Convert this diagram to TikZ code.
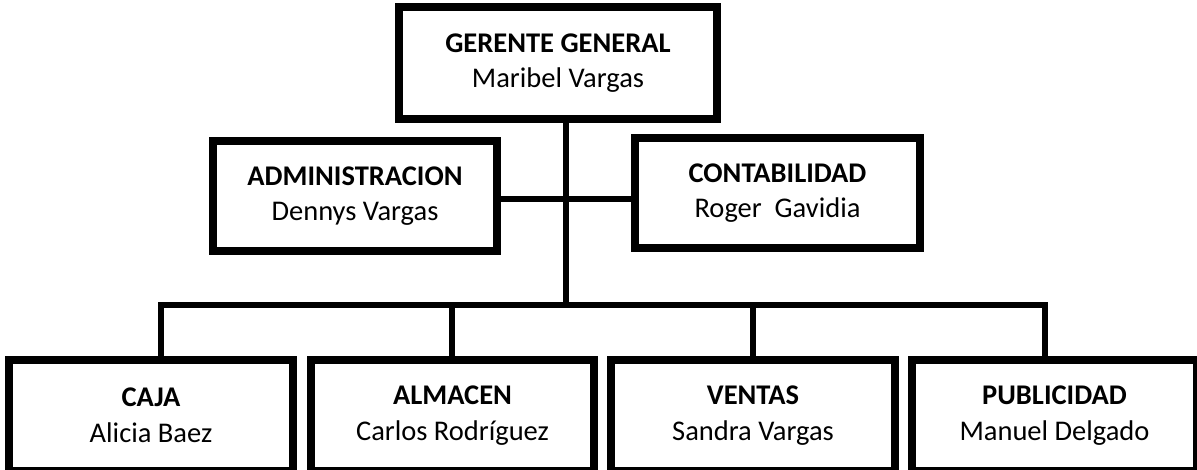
\documentclass[tikz,border=0pt]{standalone}
\usepackage{fontspec}
\setmainfont{Carlito}
\begin{document}
\begin{tikzpicture}[x=1pt,y=-1pt,
  orgbox/.style={draw=black, line width=8pt, fill=white, align=center,
    inner sep=0pt, font=\fontsize{28.5}{35.5}\selectfont},
  link/.style={draw=black, line width=5.5pt, line join=miter}]
\useasboundingbox (0,0) rectangle (1197,469);
\fill[white] (0,0) rectangle (1197,469);
% boxes
\node[orgbox, minimum width=318pt, minimum height=112pt] (ger) at (558,63) {\textbf{GERENTE GENERAL}\\Maribel Vargas};
\node[orgbox, minimum width=284pt, minimum height=110pt] (adm) at (355,196) {\textbf{ADMINISTRACION}\\Dennys Vargas};
\node[orgbox, minimum width=285pt, minimum height=110pt] (con) at (777.5,193) {\textbf{CONTABILIDAD}\\Roger\ \ Gavidia};
\node[orgbox, minimum width=284pt, minimum height=111pt] (caja) at (151,415.5) {\textbf{CAJA}\\Alicia Baez};
\node[orgbox, minimum width=283pt, minimum height=111pt] (alm) at (452.5,415.5) {\textbf{ALMACEN}\\Carlos Rodríguez};
\node[orgbox, minimum width=284pt, minimum height=111pt] (ven) at (753,415.5) {\textbf{VENTAS}\\Sandra Vargas};
\node[orgbox, minimum width=285pt, minimum height=111pt] (pub) at (1054.5,415.5) {\textbf{PUBLICIDAD}\\Manuel Delgado};
% connector coordinates
\coordinate (bus) at (566,305);
\coordinate (d1) at (161,305);
\coordinate (d2) at (452,305);
\coordinate (d3) at (753,305);
\coordinate (d4) at (1045,305);
\coordinate (mid) at (566,199);
% connectors
\draw[link] (ger.south -| bus) -- (bus);
\draw[link] (adm.east |- mid) -- (con.west |- mid);
\draw[link] (caja.north -| d1) -- (d1) -- (d4) -- (pub.north -| d4);
\draw[link] (d2) -- (alm.north -| d2);
\draw[link] (d3) -- (ven.north -| d3);
\end{tikzpicture}
\end{document}
